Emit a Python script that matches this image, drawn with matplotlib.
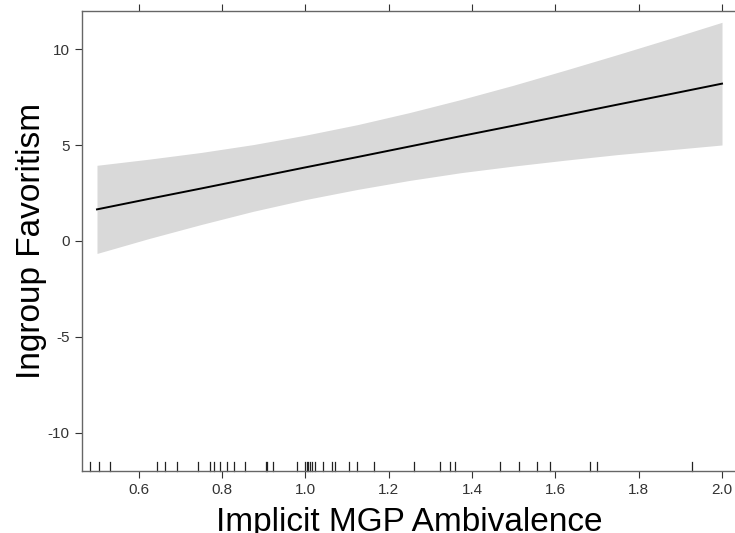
import matplotlib
matplotlib.use("Agg")
import matplotlib.pyplot as plt
import numpy as np

plt.rcParams['font.family'] = ['Liberation Sans', 'DejaVu Sans']

# Fitted line and confidence band
x_fit = [0.5, 0.625, 0.75, 0.875, 1.0, 1.125, 1.25, 1.375, 1.5, 1.625, 1.75, 1.875, 2.0]
y_fit = [1.65, 2.20, 2.74, 3.29, 3.84, 4.38, 4.93, 5.48, 6.02, 6.57, 7.12, 7.66, 8.21]
y_upper = [3.95, 4.27, 4.62, 5.03, 5.52, 6.07, 6.70, 7.39, 8.13, 8.92, 9.73, 10.56, 11.41]
y_lower = [-0.65, 0.13, 0.86, 1.55, 2.16, 2.69, 3.16, 3.57, 3.91, 4.22, 4.51, 4.76, 5.01]

# Rug of observed predictor values
rug_x = [0.482, 0.504, 0.530, 0.644, 0.662, 0.692, 0.742, 0.772, 0.780,
         0.796, 0.813, 0.828, 0.855, 0.905, 0.908, 0.923, 0.979, 1.000,
         1.003, 1.007, 1.011, 1.015, 1.023, 1.043, 1.063, 1.072, 1.105,
         1.123, 1.164, 1.260, 1.323, 1.347, 1.360, 1.466, 1.513, 1.557,
         1.588, 1.684, 1.700, 1.927]

x_ticks = [0.6, 0.8, 1.0, 1.2, 1.4, 1.6, 1.8, 2.0]
y_ticks = [-10, -5, 0, 5, 10]

fig = plt.figure(figsize=(7.35, 5.33), dpi=100)
ax = fig.add_axes([82/735, 62/533, 655/735, 460/533])

ax.fill_between(x_fit, y_lower, y_upper, color='#d9d9d9', linewidth=0)
ax.plot(x_fit, y_fit, color='black', lw=1.4)

# rug
trans = ax.get_xaxis_transform()
for xv in rug_x:
    ax.plot([xv, xv], [0, 0.02], transform=trans, color='#222222', lw=0.9,
            clip_on=False)

ax.set_xlim(0.464, 2.036)
ax.set_ylim(-12, 12)
ax.set_xticks(x_ticks)
ax.set_xticklabels([f"{v:.1f}" for v in x_ticks])
ax.set_yticks(y_ticks)
ax.set_yticklabels([str(v) for v in y_ticks])

spine_col = '#666666'
for s in ['left', 'top', 'bottom']:
    ax.spines[s].set_color(spine_col)
    ax.spines[s].set_linewidth(1.0)
ax.spines['right'].set_visible(False)

ax.tick_params(axis='x', which='both', top=True, bottom=True, direction='out',
               length=5, color='#333333', labelsize=11, labelcolor='#333333',
               pad=4)
ax.tick_params(axis='y', which='both', left=True, right=False, direction='out',
               length=5, color='#333333', labelsize=11, labelcolor='#333333',
               pad=4)

ax.set_xlabel('Implicit MGP Ambivalence', fontsize=24, labelpad=7)
ax.set_ylabel('Ingroup Favoritism', fontsize=24, labelpad=0)

fig.savefig('out.png', dpi=100)
